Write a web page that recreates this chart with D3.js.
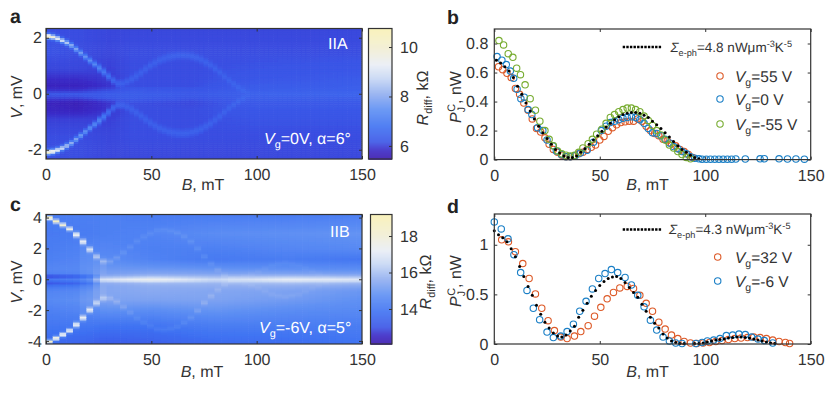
<!DOCTYPE html>
<html><head><meta charset="utf-8">
<script src="https://cdn.jsdelivr.net/npm/d3@7"></script>
<style>html,body{margin:0;padding:0;background:#fff}svg{display:block}
text{font-family:"Liberation Sans",Arial,sans-serif;fill:#333;text-rendering:geometricPrecision}</style></head>
<body><svg id="c" width="830" height="395"></svg>
<script>
// ---------- panel a heat-map read-offs ----------
const aGapB=[0,3,6,9,12,15,18,21,24,27,30,33,35,38,42,46,50,54,58,62,66,70,74,78,82,86,90,94,97];
const aGapV=[2.08,2.05,1.98,1.88,1.75,1.57,1.38,1.2,1.02,.83,.62,.42,.36,.42,.6,.82,1.05,1.22,1.33,1.39,1.4,1.35,1.23,1.05,.82,.55,.32,.12,.02];
const aAmpB=[0,4,8,12,18,25,33,38,50,65,80,92,98];
const aAmp=[4.4,3.5,2.7,2,1.5,1.2,.45,.3,.3,.35,.32,.28,.05];
const aBgB=[0,15,30,40,70,100,150];
const aBgV=[2.33,1.5,.9,.55,.3,.15,0,-.15,-.3,-.55,-.9,-1.5,-2.33];
const aBg=[[6.1,6.1,6.05,6.05,6.05,6.05,6.05],[6.15,6.1,6.05,6.1,6.1,6.1,6.1],[6.05,6.05,6,6.1,6.1,6.15,6.2],[5.85,5.85,5.95,6.1,6.1,6.2,6.3],[5.7,5.7,5.9,6.1,6.1,6.3,6.35],[5.9,5.9,6.1,6.25,6.2,6.35,6.4],[6.2,6.2,6.3,6.35,6.25,6.4,6.45],[6,6,6.2,6.3,6.15,6.35,6.35],[5.7,5.6,5.9,6.1,6.05,6.25,6.25],[5.75,5.7,5.9,6.1,6.1,6.2,6.2],[6,6,6,6.1,6.1,6.15,6.15],[6.1,6.1,6.05,6.1,6.1,6.1,6.1],[6.1,6.1,6.05,6.05,6.05,6.05,6.05]];
// ---------- panel c heat-map read-offs ----------
const cGapB=[0,2,6,10.6,13.8,17,20,23,26,29,32,38,44.7,52.6,57,63.7,70,76,81,86,90,96,101.7,107,113,120,129,137];
const cGapV=[4.1,4,3.7,3.37,3,2.57,2.09,1.65,1.26,1.15,1.26,1.9,2.67,3.2,3.26,3,2.35,1.37,.72,.17,.1,.3,.6,.95,1.12,.95,.4,0];
const cAmpB=[0,5,10,15,20,25,30,45,60,75,85,92,113,137];
const cAmp=[5,4.4,3.7,3.1,2.6,1.2,.5,.3,.3,.45,.2,.08,.2,.03];
const cBgB=[0,20,28,50,80,115,150];
const cBgV=[4.2,3,2,1.3,.7,.4,.22,0,-.22,-.4,-.7,-1.3,-2,-3,-4.2];
const cBg=[[14.2,14.3,14.3,14.2,14.2,14.2,14.3],[14.1,14.2,14.3,14.4,14.7,14.8,14.9],[14.2,14.4,14.5,14.3,14.3,14.5,14.6],[14.3,14.5,14.7,14.4,14.1,14.2,14],[14.5,14.6,15,15,14.9,14.8,14.7],[14.3,14.5,15.2,15.4,15.3,15.3,15.2],[12.5,13.4,15.6,16,15.8,16,15.8],[14.2,14.5,17,17.6,16.6,17.3,17],[13,13.6,15.6,15.9,15.8,16,15.8],[13.9,14.2,15.4,15.6,15.6,15.6,15.4],[14.4,14.6,15.4,15.5,15.4,15.3,15],[14.6,14.8,15.3,15.3,15.3,15.1,14.8],[14.3,14.5,14.8,14.7,14.9,14.7,14.6],[14,14,13.9,13.9,14.2,14.2,14.2],[13.6,13.4,13.2,13.3,13.6,13.7,13.9]];
// ---------- colour map ----------
const cmapPos=[0,.07,.13,.25,.38,.5,.62,.72,.85,1];
const cmapCol=["#3a18ae","#3a2cc8","#3a55e6","#3f72f2","#5e8ff3","#92aff0","#c8d8f4","#e9edf5","#f2eed2","#f9f1b4"];
// ---------- panel b ----------
const bB55=[2,4,6,8,10,12,14,16,18,20,22,24,26,28,30,32,34,36,38,40,42,44,46,48,50,52,54,56,58,60,62,64,66,68,70,72,74,76,78,80,82,84,86,88,90,92,94];
const bP55=[.64,.62,.595,.565,.49,.45,.39,.34,.28,.215,.19,.15,.105,.07,.05,.03,.02,.02,.025,.04,.05,.07,.085,.1,.135,.16,.195,.22,.24,.255,.26,.265,.265,.28,.265,.23,.2,.18,.165,.14,.13,.11,.095,.07,.055,.035,.015];
const bB0=[1.3,3.6,5.7,7.6,9.2,10.8,12.6,14.2,16,17.8,20.5,23,25,27.8,29.4,31.8,34,36,38.4,40.8,44,47,50.7,53,55,57,59,61,63,65,67,69,71,73,75,77,79,81,83,85,87,89,91,93,95,97,98.5,100.5,102.5,104.5,106.5,108.5,110.5,112.5,114.5,119,126,128,135,139,143,147];
const bP0=[.71,.685,.655,.61,.56,.485,.42,.43,.345,.31,.22,.2,.135,.095,.06,.035,.02,.02,.028,.045,.065,.12,.2,.23,.255,.265,.275,.285,.29,.295,.29,.275,.25,.215,.185,.18,.165,.14,.115,.09,.075,.055,.04,.02,.01,.005,.003,.003,.003,.003,.003,.003,.003,.003,.004,.004,.005,.006,.005,.004,.004,.003];
const bBm55=[2.2,4.4,6.6,8.8,10.6,12.4,14.6,17,19.5,21.6,24,26,28,30,32,34,36,38,40,42,44.5,46.5,48.5,51,53,55,57,59,61,63,65,67,69,71,73,75,77,79,81,83,85,87,89,91,93];
const bPm55=[.82,.79,.73,.705,.63,.585,.515,.42,.34,.265,.2,.14,.095,.06,.04,.03,.025,.03,.05,.08,.11,.14,.175,.21,.25,.29,.31,.33,.345,.355,.355,.345,.33,.3,.27,.235,.2,.17,.135,.1,.08,.055,.035,.015,.005];
const bFitB=[1,3,5,7,9,11,13,15,17,19,21,23,25,27,29,31,33,35,37,39,41,43,45,47,49,51,53,55,57,59,61,63,65,67,69,71,73,75,77,79,81,83,85,87,89,91,93,95,97];
const bFitP=[.685,.665,.64,.61,.565,.505,.45,.39,.335,.28,.23,.185,.145,.105,.07,.045,.025,.015,.015,.025,.05,.075,.105,.135,.165,.195,.225,.25,.275,.295,.31,.32,.325,.325,.32,.305,.29,.265,.24,.215,.185,.155,.125,.095,.07,.05,.03,.015,.005];
// ---------- panel d ----------
const dB32=[3.5,6.7,10,13.5,16.5,19.5,22.5,25.5,28.5,31.5,34.5,38,41,44.5,47.5,50.5,53.5,56.5,59.5,63,66,69,72,75,78,81,84,87,90,93,96,99,102,105,108,111,114,117,120,123,126,129,132,135,138,140];
const dP32=[1.05,1.03,.93,.81,.66,.505,.36,.235,.135,.07,.055,.08,.125,.185,.28,.37,.455,.52,.565,.58,.56,.49,.41,.33,.22,.15,.09,.055,.025,.01,.005,.01,.015,.025,.035,.045,.055,.06,.065,.07,.065,.055,.04,.025,.015,.005];
const dBm6=[0,3.3,6.5,9.3,12.5,15.5,18.5,21.5,25,28,31.5,34.5,37.5,40.5,43.5,46.5,49.5,52.5,55.5,58.5,62,65,68,71,74,77,80,83,86,89,95.5,98.5,101,104,107,110,113,116,119,122,125,128,132];
const dPm6=[1.23,1.16,1.06,.9,.72,.54,.36,.245,.12,.065,.08,.125,.2,.33,.43,.555,.66,.71,.75,.72,.67,.595,.49,.375,.24,.14,.07,.03,.01,.005,.005,.015,.03,.04,.055,.085,.09,.1,.095,.07,.05,.035,.01];
const dFitB=[0,2,4,6,8,10,12,14,16,18,20,22,24,26,28,30,32,34,36,38,40,42,44,46,48,50,52,54,56,58,60,62,64,66,68,70,72,74,76,78,80,82,84,86,88,90,95,97,99,101,103,105,107,109,111,113,115,117,119,121,123,125,127,129,131,133];
const dFitP=[1.14,1.1,1.07,1.03,.96,.88,.78,.68,.58,.49,.39,.3,.22,.16,.11,.08,.07,.09,.13,.18,.27,.34,.41,.48,.54,.59,.63,.66,.675,.68,.66,.62,.57,.52,.47,.4,.33,.27,.21,.16,.1,.06,.03,.015,.005,.005,.005,.005,.01,.02,.03,.04,.045,.05,.06,.065,.07,.07,.065,.06,.05,.04,.03,.02,.01,.005];
const xTicks=[0,50,100,150];

const svg=d3.select("#c");
const defs=svg.append("defs");
defs.append("filter").attr("id","soft").attr("x","-2%").attr("y","-2%").attr("width","104%").attr("height","104%")
  .append("feGaussianBlur").attr("stdDeviation",.45);
const ink="#333";
const F=16;

function label(x,y,segs,opt={}){
  const t=svg.append("text").attr("x",x).attr("y",y).attr("font-size",opt.size||F)
    .style("fill",opt.fill||ink).attr("text-anchor",opt.anchor||"start");
  if(opt.rot!==undefined) t.attr("transform",`rotate(${opt.rot} ${x} ${y})`);
  const base=opt.size||F; let shift=0;
  segs.forEach(s=>{
    const sp=t.append("tspan").text(s.t);
    if(s.i) sp.attr("font-style","italic");
    const want=s.sub?base*.27:s.sup?-base*.38:0;
    const dy=want-shift; if(dy) sp.attr("dy",dy); shift=want;
    if(s.dx) sp.attr("dx",s.dx);
    if(s.sub||s.sup) sp.attr("font-size",base*.68);
  });
  return t;
}
function frame(x,y,w,h){svg.append("rect").attr("x",x).attr("y",y).attr("width",w).attr("height",h)
  .attr("fill","none").attr("stroke",ink).attr("stroke-width",1.2);}

function axes(xs,ys,yTicks,fmt,labelPad){
  const [x0,x1]=xs.range(),[y0,y1]=ys.range(),L=3;
  const bx=svg.append("g").attr("transform",`translate(0,${y0})`).call(d3.axisBottom(xs).tickValues(xTicks).tickSize(-L).tickPadding(10));
  const tx=svg.append("g").attr("transform",`translate(0,${y1})`).call(d3.axisTop(xs).tickValues(xTicks).tickSize(-L).tickFormat(""));
  const ly=svg.append("g").attr("transform",`translate(${x0},0)`).call(d3.axisLeft(ys).tickValues(yTicks).tickSize(-L).tickPadding(labelPad).tickFormat(fmt));
  const ry=svg.append("g").attr("transform",`translate(${x1},0)`).call(d3.axisRight(ys).tickValues(yTicks).tickSize(-L).tickFormat(""));
  [bx,tx,ly,ry].forEach(g=>{g.select(".domain").remove();
    g.selectAll("line").attr("stroke",ink).attr("stroke-width",1);
    g.selectAll("text").attr("font-size",F).attr("font-family",'"Liberation Sans",Arial,sans-serif').style("fill",ink);});
  frame(x0,y1,x1-x0,y0-y1);
}

function heat(box,vMax,cfg){
  const xs=d3.scaleLinear().domain([0,150]).range([box.x0,box.x1]);
  const ys=d3.scaleLinear().domain([-vMax,vMax]).range([box.y1,box.y0]);
  const col=d3.scaleLinear().domain(cmapPos.map(p=>cfg.cb[0]+p*(cfg.cb[1]-cfg.cb[0]))).range(cmapCol).clamp(true);
  const gap=d3.scaleLinear().domain(cfg.gapB).range(cfg.gapV).clamp(true);
  const amp=d3.scaleLinear().domain(cfg.ampB).range(cfg.amp).clamp(true);
  const bVs=cfg.bgV.slice().reverse();
  const rowFns=cfg.bg.slice().reverse().map(r=>d3.scaleLinear().domain(cfg.bgB).range(r));
  const bgAt=(b,v)=>d3.scaleLinear().domain(bVs).range(rowFns.map(f=>f(b))).clamp(true)(v);
  const cells=[];
  const nC=Math.round(150/cfg.dB),nR=Math.round(2*vMax/cfg.dV);
  for(let i=0;i<nC;i++){const b0=i*cfg.dB,b=b0+cfg.dB/2,g=gap(b),a=amp(b);
    for(let j=0;j<nR;j++){const v0=-vMax+j*cfg.dV,v=v0+cfg.dV/2;
      const sig=cfg.sig(b);
      const d=Math.abs(Math.abs(v)-g);
      let val=bgAt(b,v)+a*Math.exp(-d*d/(2*sig*sig));
      if(cfg.inner&&Math.abs(v)<g) val+=cfg.inner(b);
      cells.push({b0,v0,val});
    }}
  const clipId="clip"+box.x0+box.y0;
  defs.append("clipPath").attr("id",clipId).append("rect").attr("x",box.x0).attr("y",box.y0).attr("width",box.x1-box.x0).attr("height",box.y1-box.y0);
  svg.append("g").attr("clip-path",`url(#${clipId})`).append("g").attr("filter","url(#soft)")
    .selectAll("rect").data(cells).join("rect")
    .attr("x",d=>xs(d.b0)).attr("width",xs(cfg.dB)-xs(0)+.6)
    .attr("y",d=>ys(d.v0+cfg.dV)).attr("height",ys(0)-ys(cfg.dV)+.6)
    .attr("fill",d=>col(d.val));
  axes(xs,ys,cfg.yTicks,d=>d,4);
  // colour bar
  const cy=d3.scaleLinear().domain(cfg.cb).range([box.y1,box.y0]);
  svg.append("g").selectAll("rect").data(d3.range(0,box.y1-box.y0,1)).join("rect")
    .attr("x",cfg.cbx0).attr("width",392-cfg.cbx0).attr("y",d=>box.y0+d).attr("height",1.3)
    .attr("fill",d=>col(cy.invert(box.y0+d+.5)));
  const g=svg.append("g").attr("transform","translate(392,0)").call(d3.axisRight(cy).tickValues(cfg.cbTicks).tickSize(-3).tickPadding(8).tickFormat(d3.format("d")));
  g.select(".domain").remove();
  g.selectAll("line").attr("stroke",ink);
  g.selectAll("text").attr("font-size",F).attr("font-family",'"Liberation Sans",Arial,sans-serif').style("fill",ink);
  frame(cfg.cbx0,box.y0,392-cfg.cbx0,box.y1-box.y0);
}

heat({x0:46,x1:362,y0:28.5,y1:159},2.33,{gapB:aGapB,gapV:aGapV,ampB:aAmpB,amp:aAmp,bgB:aBgB,bgV:aBgV,bg:aBg,
  dB:2.2,dV:.07,sig:b=>b<25?.06:.075,cb:[5.47,10.75],cbx0:368.5,cbTicks:[6,8,10],yTicks:[-2,0,2]});
heat({x0:46,x1:362,y0:214.5,y1:344},4.2,{gapB:cGapB,gapV:cGapV,ampB:cAmpB,amp:cAmp,bgB:cBgB,bgV:cBgV,bg:cBg,
  dB:3.2,dV:.13,sig:b=>b<14?.09:b<30?.12:.1,inner:b=>(b>16&&b<28)?.22:0,cb:[12.08,19.18],cbx0:370.5,cbTicks:[14,16,18],yTicks:[-4,-2,0,2,4]});

function scatter(yMax,y0,y1,yTicks,fmt,series,fit){
  const xs=d3.scaleLinear().domain([0,150]).range([494.3,810.7]);
  const ys=d3.scaleLinear().domain([0,yMax]).range([y0,y1]);
  series.forEach(s=>{
    svg.append("g").selectAll("circle").data(d3.zip(s.b,s.p)).join("circle")
      .attr("cx",d=>xs(d[0])).attr("cy",d=>ys(d[1])).attr("r",3.2).attr("fill","none")
      .attr("stroke",s.c).attr("stroke-width",1.1);
  });
  svg.append("g").selectAll("circle").data(d3.zip(fit.b,fit.p)).join("circle")
    .attr("cx",d=>xs(d[0])).attr("cy",d=>ys(d[1])).attr("r",1.5).attr("fill","#000");
  axes(xs,ys,yTicks,fmt,6);
}
const ORANGE="#dd5a28",BLUE="#1a7fc6",GREEN="#77ac30";
scatter(.9,159.6,29,[0,.2,.4,.6,.8],d=>d===0?"0":d3.format(".1f")(d),
  [{b:bB55,p:bP55,c:ORANGE},{b:bB0,p:bP0,c:BLUE},{b:bBm55,p:bPm55,c:GREEN}],{b:bFitB,p:bFitP});
scatter(1.31,344,214,[0,.5,1],d=>d,
  [{b:dB32,p:dP32,c:ORANGE},{b:dBm6,p:dPm6,c:BLUE}],{b:dFitB,p:dFitP});

// panel letters
[["a",10,23],["b",447,24],["c",10,211],["d",447,213]].forEach(d=>
  svg.append("text").attr("x",d[1]).attr("y",d[2]).attr("font-size",19.5).attr("font-weight","bold").style("fill","#222").text(d[0]));
// axis titles
[[203,190],[647.5,190],[202,377],[647.5,377]].forEach(d=>label(d[0],d[1],[{t:"B",i:1},{t:", mT"}],{anchor:"middle"}));
label(21.5,97,[{t:"V",i:1},{t:", mV"}],{anchor:"middle",rot:-90});
label(21.5,282,[{t:"V",i:1},{t:", mV"}],{anchor:"middle",rot:-90});
label(428,98,[{t:"R",i:1},{t:"diff",sub:1},{t:", kΩ"}],{anchor:"middle",rot:-90});
label(431,282,[{t:"R",i:1},{t:"diff",sub:1},{t:", kΩ"}],{anchor:"middle",rot:-90});
const pj=[{t:"P",i:1},{t:"J",sub:1},{t:"C",sup:1,dx:-5},{t:", nW"}];
label(461,97,pj,{anchor:"middle",rot:-90});
label(461,281,pj,{anchor:"middle",rot:-90});
// heat-map annotations
label(328,49,[{t:"IIA"}],{fill:"#fff"});
label(264,144,[{t:"V",i:1},{t:"g",sub:1},{t:"=0V, α=6°"}],{fill:"#fff"});
label(330,237,[{t:"IIB"}],{fill:"#fff"});
label(259,333,[{t:"V",i:1},{t:"g",sub:1},{t:"=-6V, α=5°"}],{fill:"#fff"});
// legends
function legend(lx0,ly,txt,tx,tby,rows){
  svg.append("line").attr("x1",lx0).attr("x2",lx0+39).attr("y1",ly).attr("y2",ly)
    .attr("stroke","#000").attr("stroke-width",2.5).attr("stroke-dasharray","2.4 1.2");
  label(tx,tby,[{t:"Σ",i:1},{t:"e-ph",sub:1},{t:"="+txt+" nWμm"},{t:"-3",sup:1},{t:"K"},{t:"-5",sup:1}],{size:13.5});
  rows.forEach(r=>{
    svg.append("circle").attr("cx",r.x).attr("cy",r.y).attr("r",3.2).attr("fill","none").attr("stroke",r.c).attr("stroke-width",1.1);
    label(735,r.y+5.5,[{t:"V",i:1},{t:"g",sub:1},{t:r.t}],{size:15.5});
  });
}
legend(622.7,47,"4.8",670.5,52,[{x:720,y:76,c:ORANGE,t:"=55 V"},{x:720,y:99,c:BLUE,t:"=0 V"},{x:720,y:124,c:GREEN,t:"=-55 V"}]);
legend(622.7,229.5,"4.3",669,234,[{x:717.7,y:257,c:ORANGE,t:"=32 V"},{x:717.7,y:281,c:BLUE,t:"=-6 V"}]);
</script></body></html>
